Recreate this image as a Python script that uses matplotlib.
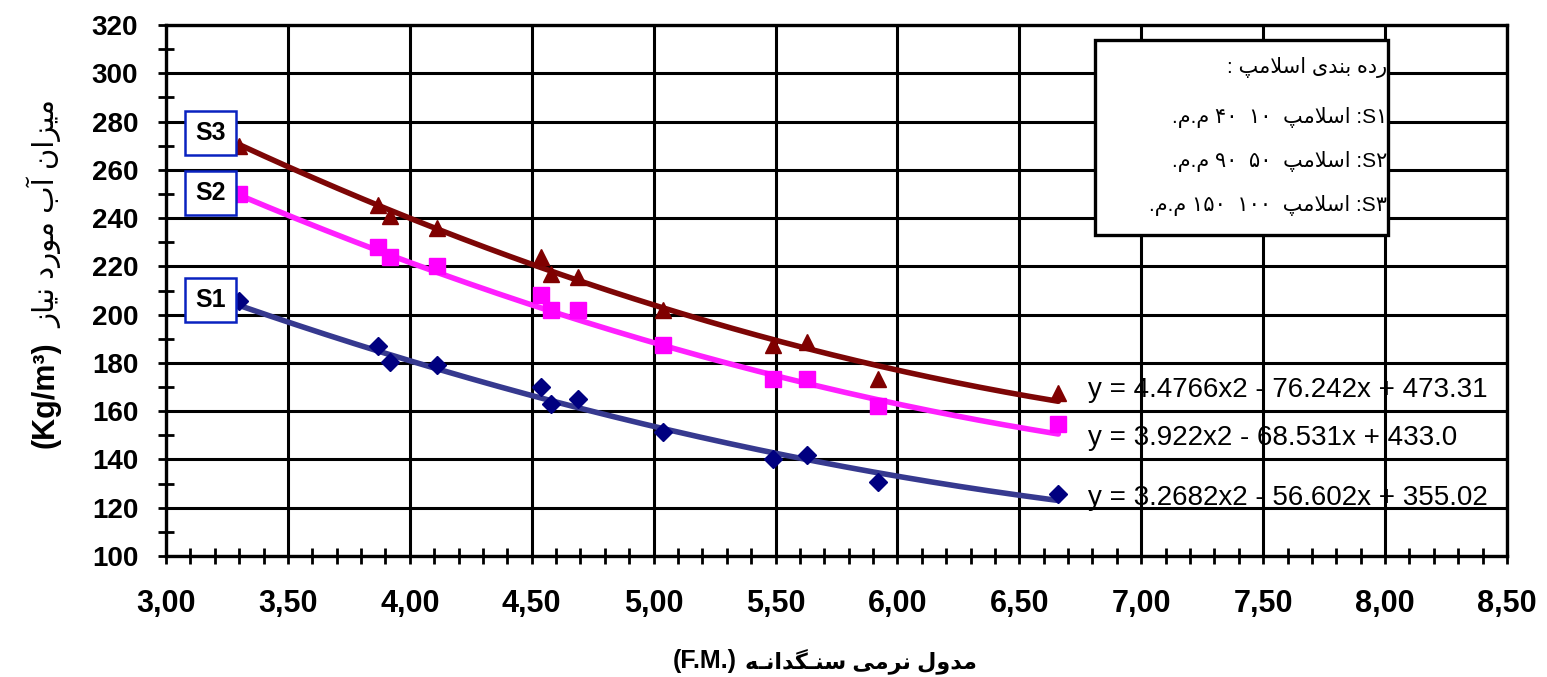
import numpy as np
import matplotlib
matplotlib.use("Agg")
import matplotlib.pyplot as plt
from matplotlib.ticker import MultipleLocator, FuncFormatter
from matplotlib.patches import Rectangle

plt.rcParams["font.family"] = ["Liberation Sans", "DejaVu Sans"]

# data
fm = [3.30, 3.87, 3.92, 4.11, 4.54, 4.58, 4.69, 5.04, 5.49, 5.63, 5.92, 6.66]
s1 = [205.5, 187.0, 180.5, 179.0, 170.0, 163.0, 165.0, 151.5, 140.0, 142.0, 130.5, 125.5]
s2 = [250.0, 228.0, 224.0, 220.0, 208.0, 202.0, 202.0, 187.5, 173.5, 173.5, 162.0, 154.5]
s3 = [270.0, 245.5, 241.0, 236.0, 224.0, 217.0, 215.5, 202.0, 187.5, 188.5, 173.5, 167.5]

# trendline coefficients shown on the chart (a, b, c for a*x^2 + b*x + c)
fit1 = [3.2682, -56.602, 355.02]
fit2 = [3.922, -68.531, 433.0]
fit3 = [4.4766, -76.242, 473.31]
eq_labels = ["y = 3.2682x2 - 56.602x + 355.02",
             "y = 3.922x2 - 68.531x + 433.0",
             "y = 4.4766x2 - 76.242x + 473.31"]
series_names = ["S1", "S2", "S3"]


# --- minimal Arabic/Persian shaping (matplotlib has no bidi / joining) ---
DUAL = {
    "\u0628": "\uFE8F\uFE90\uFE91\uFE92",  # beh
    "\u067E": "\uFB56\uFB57\uFB58\uFB59",  # peh
    "\u0633": "\uFEB1\uFEB2\uFEB3\uFEB4",  # seen
    "\u06AF": "\uFB92\uFB93\uFB94\uFB95",  # gaf
    "\u0644": "\uFEDD\uFEDE\uFEDF\uFEE0",  # lam
    "\u0645": "\uFEE1\uFEE2\uFEE3\uFEE4",  # meem
    "\u0646": "\uFEE5\uFEE6\uFEE7\uFEE8",  # noon
    "\u0647": "\uFEE9\uFEEA\uFEEB\uFEEC",  # heh
    "\u06CC": "\uFBFC\uFBFD\uFBFE\uFBFF",  # farsi yeh
    "\u0640": "\u0640\u0640\u0640\u0640",  # tatweel
}
RIGHT = {
    "\u0627": "\uFE8D\uFE8E",  # alef
    "\u0622": "\uFE81\uFE82",  # alef madda
    "\u062F": "\uFEA9\uFEAA",  # dal
    "\u0631": "\uFEAD\uFEAE",  # reh
    "\u0632": "\uFEAF\uFEB0",  # zain
    "\u0648": "\uFEED\uFEEE",  # waw
    "\uFEFB": "\uFEFB\uFEFC",  # lam-alef
}


def rtl(text):
    s = text.replace("\u0644\u0627", "\uFEFB")
    out = []
    for i, c in enumerate(s):
        prev = s[i - 1] if i > 0 else ""
        nxt = s[i + 1] if i + 1 < len(s) else ""
        jp = prev in DUAL
        if c in DUAL:
            jn = nxt in DUAL or nxt in RIGHT
            iso, fin, ini, med = DUAL[c]
            out.append(med if (jp and jn) else fin if jp else ini if jn else iso)
        elif c in RIGHT:
            iso, fin = RIGHT[c]
            out.append(fin if jp else iso)
        else:
            out.append(c)
    return "".join(reversed(out))


fig = plt.figure(figsize=(15.47, 6.77), dpi=100)
ax = fig.add_axes([0.1073, 0.1787, 0.8668, 0.7844])

colors_line = ["#36398f", "#ff20ff", "#7d0606"]
colors_mark = ["#000080", "#ff00ff", "#800000"]
markers = ["D", "s", "^"]
msizes = [9, 11, 12]

xs = np.linspace(min(fm), max(fm), 200)
for ys, fit, lc, mc, mk, ms in zip([s1, s2, s3], [fit1, fit2, fit3],
                                   colors_line, colors_mark, markers, msizes):
    ax.plot(xs, np.polyval(fit, xs), color=lc, lw=4, zorder=2,
            solid_capstyle="round")
    ax.plot(fm, ys, linestyle="none", marker=mk, ms=ms, color=mc,
            markeredgecolor=mc, zorder=3)

ax.set_xlim(3.0, 8.5)
ax.set_ylim(100, 320)
ax.xaxis.set_major_locator(MultipleLocator(0.5))
ax.xaxis.set_minor_locator(MultipleLocator(0.1))
ax.yaxis.set_major_locator(MultipleLocator(20))
ax.yaxis.set_minor_locator(MultipleLocator(10))
ax.xaxis.set_major_formatter(FuncFormatter(lambda v, p: f"{v:.2f}".replace(".", ",")))
ax.grid(True, which="major", color="black", lw=2.2, zorder=1.5)
for sp in ax.spines.values():
    sp.set_linewidth(2.4)
ax.tick_params(which="both", direction="inout", length=12, width=2, color="black")
ax.tick_params(axis="x", which="major", labelsize=22, pad=18)
ax.tick_params(axis="y", which="major", labelsize=20, pad=14)
for lab in ax.get_xticklabels() + ax.get_yticklabels():
    lab.set_fontweight("bold")

# equations of the trendlines (sit under the grid as in the original)
eq_pos = [(6.78, 124.1), (6.78, 148.9), (6.78, 168.8)]
for (ex, ey), lab in zip(eq_pos, eq_labels):
    ax.text(ex, ey, lab, fontsize=20, ha="left", va="center", zorder=1)

# S1/S2/S3 tags
tag_pos = [(3.182, 206.1), (3.182, 250.4), (3.182, 275.3)]
for (tx, ty), name in zip(tag_pos, series_names):
    ax.text(tx, ty, name, fontsize=18, fontweight="bold", ha="center", va="center",
            zorder=6, bbox=dict(boxstyle="square,pad=0.4", fc="white",
                                ec="#0a22c0", lw=1.8))

# legend box with the slump classes
ax.add_patch(Rectangle((0.6928, 0.6045), 0.2185, 0.3673, transform=ax.transAxes,
                       fc="white", ec="black", lw=2.4, zorder=5))
mm = rtl("م.م.")
slump = rtl("اسلامپ")
legend_lines = [
    ": " + rtl("رده بندی اسلامپ"),
    mm + " ۴۰  ۱۰  " + slump + " :S۱",
    mm + " ۹۰  ۵۰  " + slump + " :S۲",
    mm + " ۱۵۰  ۱۰۰  " + slump + " :S۳",
]
legend_y = [67, 118, 162, 205]
for txt, py in zip(legend_lines, legend_y):
    fig.text(1387 / 1547, 1 - py / 677, txt, fontsize=15, ha="right",
             va="center", zorder=7)

# axis titles
fig.text(45 / 1547, 1 - 395 / 677, "(Kg/m³)", rotation=90, fontsize=22,
         fontweight="bold", ha="center", va="center")
fig.text(45 / 1547, 1 - 214 / 677, rtl("میزان آب مورد نیاز"), rotation=90,
         fontsize=21, ha="center", va="center")
fig.text(737 / 1547, 1 - 661 / 677, "(F.M.)", fontsize=18, fontweight="bold",
         ha="right", va="center")
fig.text(745 / 1547, 1 - 661 / 677, rtl("مدول نرمی سنـگدانـه"), fontsize=16,
         fontweight="bold", ha="left", va="center")

fig.savefig("out.png", dpi=100)
